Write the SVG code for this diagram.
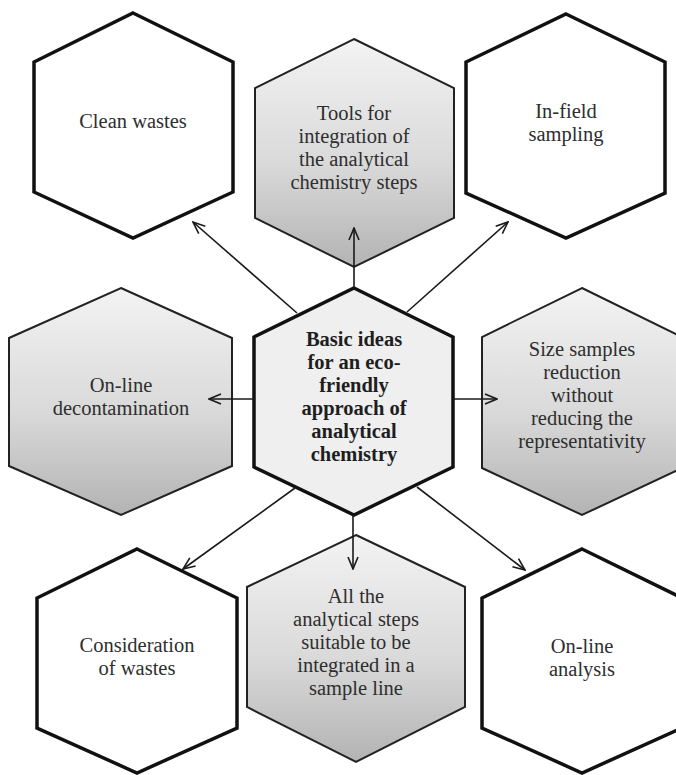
<svg xmlns="http://www.w3.org/2000/svg" width="676" height="775" viewBox="0 0 676 775">
  <defs>
    <linearGradient id="grayFill" x1="0" y1="0" x2="0" y2="1">
      <stop offset="0" stop-color="#f3f3f3"/>
      <stop offset="0.55" stop-color="#d9d9d9"/>
      <stop offset="1" stop-color="#b3b3b3"/>
    </linearGradient>
    <marker id="arrow" viewBox="0 0 14 12" refX="13" refY="6" markerWidth="14" markerHeight="12" markerUnits="userSpaceOnUse" orient="auto">
      <path d="M1,1 L13,6 L1,11" fill="none" stroke="#1a1a1a" stroke-width="1.6" stroke-linejoin="miter"/>
    </marker>
    <style>
      .white { fill: #ffffff; stroke: #111111; stroke-width: 3.5; stroke-linejoin: miter; }
      .gray { fill: url(#grayFill); stroke: #222222; stroke-width: 2; stroke-linejoin: miter; }
      .core { fill: #efefef; stroke: #111111; stroke-width: 3.5; stroke-linejoin: miter; }
      .label { font-family: "Liberation Serif", "Times New Roman", serif; font-size: 20.5px; fill: #2e2e2e; text-anchor: middle; }
      .bold { font-weight: bold; fill: #1e1e1e; }
      .link { stroke: #1a1a1a; stroke-width: 1.6; fill: none; marker-end: url(#arrow); }
    </style>
  </defs>

  <!-- outer ring of hexagons -->
  <g id="clean-wastes">
    <polygon class="white" points="133,13 233,62 233,192 133,238 34,192 34,62"/>
    <text class="label" x="133" y="128">Clean wastes</text>
  </g>

  <g id="tools-integration">
    <polygon class="gray" points="354,39 454,88 454,218 354,267 255,218 255,88"/>
    <text class="label" x="354" y="120">Tools for</text>
    <text class="label" x="354" y="143">integration of</text>
    <text class="label" x="354" y="166">the analytical</text>
    <text class="label" x="354" y="189">chemistry steps</text>
  </g>

  <g id="in-field-sampling">
    <polygon class="white" points="566,14 665,62 665,193 566,238 466,193 466,62"/>
    <text class="label" x="566" y="118">In-field</text>
    <text class="label" x="566" y="141">sampling</text>
  </g>

  <g id="online-decontamination">
    <polygon class="gray" points="121,288 232,338 232,466 121,515 9,466 9,338"/>
    <text class="label" x="121" y="392">On-line</text>
    <text class="label" x="121" y="415">decontamination</text>
  </g>

  <g id="size-reduction">
    <polygon class="gray" points="582,288 682,337 682,468 582,515 482,468 482,337"/>
    <text class="label" x="582" y="356">Size samples</text>
    <text class="label" x="582" y="379">reduction</text>
    <text class="label" x="582" y="402">without</text>
    <text class="label" x="582" y="425">reducing the</text>
    <text class="label" x="582" y="448">representativity</text>
  </g>

  <g id="consideration-wastes">
    <polygon class="white" points="137,549 237,598 237,728 137,773 37,728 37,598"/>
    <text class="label" x="137" y="652">Consideration</text>
    <text class="label" x="137" y="675">of wastes</text>
  </g>

  <g id="sample-line">
    <polygon class="gray" points="356,535 465,587 465,707 356,762 247,707 247,587"/>
    <text class="label" x="356" y="603">All the</text>
    <text class="label" x="356" y="626">analytical steps</text>
    <text class="label" x="356" y="649">suitable to be</text>
    <text class="label" x="356" y="672">integrated in a</text>
    <text class="label" x="356" y="695">sample line</text>
  </g>

  <g id="online-analysis">
    <polygon class="white" points="582,549 682,598 682,728 582,773 482,728 482,598"/>
    <text class="label" x="582" y="653">On-line</text>
    <text class="label" x="582" y="676">analysis</text>
  </g>

  <!-- central hexagon -->
  <g id="basic-ideas">
    <polygon class="core" points="354,288 453,337 453,467 354,515 254,467 254,337"/>
    <text class="label bold" x="354" y="346">Basic ideas</text>
    <text class="label bold" x="354" y="369">for an eco-</text>
    <text class="label bold" x="354" y="392">friendly</text>
    <text class="label bold" x="354" y="415">approach of</text>
    <text class="label bold" x="354" y="438">analytical</text>
    <text class="label bold" x="354" y="461">chemistry</text>
  </g>

  <!-- arrows from the central hexagon -->
  <g id="connectors">
    <line class="link" x1="297" y1="313" x2="193" y2="222"/>
    <line class="link" x1="354" y1="288" x2="354" y2="228"/>
    <line class="link" x1="407" y1="312" x2="508" y2="222"/>
    <line class="link" x1="254" y1="399" x2="209" y2="399"/>
    <line class="link" x1="453" y1="399" x2="497" y2="399"/>
    <line class="link" x1="295" y1="488" x2="183" y2="569"/>
    <line class="link" x1="353" y1="515" x2="353" y2="569"/>
    <line class="link" x1="417" y1="487" x2="525" y2="570"/>
  </g>
</svg>
